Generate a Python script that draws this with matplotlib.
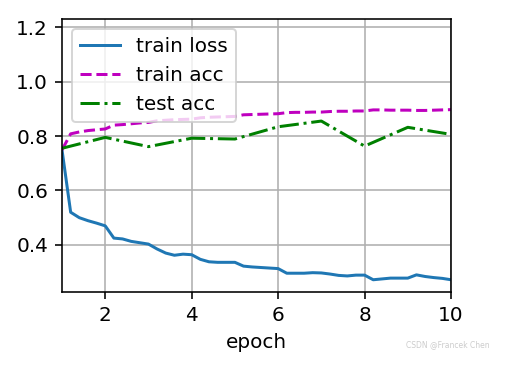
import numpy as np
import matplotlib
matplotlib.use("Agg")
import matplotlib.pyplot as plt

# ── data ──────────────────────────────────────────────────────────────────
batch_epochs = np.round(np.arange(1.0, 10.01, 0.2), 1)
train_loss = [
    0.749, 0.520, 0.500, 0.489, 0.480, 0.470, 0.425, 0.422, 0.413, 0.408,
    0.403, 0.385, 0.370, 0.362, 0.366, 0.364, 0.347, 0.338, 0.336, 0.336,
    0.336, 0.322, 0.319, 0.317, 0.315, 0.313, 0.296, 0.296, 0.296, 0.298,
    0.297, 0.293, 0.288, 0.286, 0.289, 0.289, 0.272, 0.275, 0.278, 0.278,
    0.278, 0.290, 0.284, 0.280, 0.277, 0.272,
]
train_acc = [
    0.749, 0.808, 0.815, 0.820, 0.823, 0.826, 0.840, 0.842, 0.845, 0.848,
    0.850, 0.856, 0.858, 0.860, 0.861, 0.862, 0.867, 0.869, 0.870, 0.871,
    0.872, 0.878, 0.879, 0.880, 0.881, 0.882, 0.886, 0.887, 0.887, 0.888,
    0.888, 0.890, 0.891, 0.891, 0.892, 0.892, 0.896, 0.896, 0.895, 0.895,
    0.895, 0.894, 0.894, 0.895, 0.896, 0.897,
]
epochs = [1, 2, 3, 4, 5, 6, 7, 8, 9, 10]
test_acc = [0.755, 0.795, 0.761, 0.792, 0.789, 0.834, 0.855, 0.763, 0.832, 0.806]

fig = plt.figure(figsize=(505 / 144, 365 / 144), dpi=144)
ax = fig.add_axes([0.1228, 0.2, 0.7703, 0.748])

ax.plot(batch_epochs, train_loss, "-", label="train loss")
ax.plot(batch_epochs, train_acc, "m--", label="train acc")
ax.plot(epochs, test_acc, "g-.", label="test acc")

ax.set_xlim(1, 10)
ax.set_ylim(0.227, 1.23)
ax.set_xticks([2, 4, 6, 8, 10])
ax.set_yticks([0.4, 0.6, 0.8, 1.0, 1.2])
ax.set_xlabel("epoch")
ax.grid(True)
ax.legend(loc="upper left")

# watermark
fig.text(0.97, 0.055, "CSDN @Francek Chen", fontsize=3.8, color="#cccccc",
         ha="right", va="center")

fig.savefig("out.png", dpi=144)
